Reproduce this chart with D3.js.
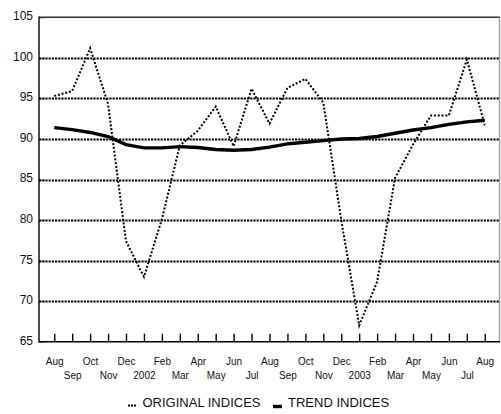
<!DOCTYPE html>
<html>
<head>
<meta charset="utf-8">
<script src="https://cdn.jsdelivr.net/npm/d3@7"></script>
<style>
  html, body { margin: 0; padding: 0; background: #fff; }
  svg { display: block; font-family: "Liberation Sans", Arial, sans-serif; }
</style>
</head>
<body>
<svg id="chart" width="501" height="414"></svg>
<script>
const months = ["Aug","Sep","Oct","Nov","Dec","2002","Feb","Mar","Apr","May","Jun","Jul",
                "Aug","Sep","Oct","Nov","Dec","2003","Feb","Mar","Apr","May","Jun","Jul","Aug"];
const originalIndices = [95.3, 95.9, 101.2, 94.3, 77.4, 73.0, 80.1, 89.2, 91.0, 94.0, 89.1, 96.2,
                         91.9, 96.3, 97.4, 94.5, 80.0, 67.0, 72.4, 85.2, 89.3, 92.9, 92.9, 99.8, 91.7];
const trendIndices = [91.4, 91.15, 90.8, 90.3, 89.3, 88.9, 88.9, 89.05, 88.95, 88.7, 88.6, 88.7,
                      89.0, 89.4, 89.6, 89.8, 90.0, 90.05, 90.3, 90.7, 91.1, 91.4, 91.8, 92.1, 92.3];
const yTicks = [65, 70, 75, 80, 85, 90, 95, 100, 105];
const legendLabels = ["ORIGINAL INDICES", "TREND INDICES"];

const svg = d3.select("#chart");
const plotLeft = 39, plotRight = 500, plotTop = 17.3, plotBottom = 341.7;

const x = d3.scalePoint().domain(d3.range(months.length)).range([plotLeft, plotRight]).padding(0.85);
const y = d3.scaleLinear().domain([65, 105]).range([plotBottom, plotTop]);

// y ticks (grey, inside)
const yAxis = svg.append("g")
  .attr("transform", `translate(${plotLeft},0)`)
  .call(d3.axisLeft(y).tickValues(yTicks).tickSizeInner(-6).tickSizeOuter(0).tickPadding(6));
yAxis.select(".domain").remove();
yAxis.selectAll(".tick line").attr("stroke", "#9a9a9a").attr("stroke-width", 1.3);
yAxis.selectAll(".tick text")
  .attr("font-size", 12).attr("fill", "#111").attr("font-family", "Liberation Sans, Arial, sans-serif")
  .attr("dy", "0.2em");

// gridlines (dotted)
svg.append("g").selectAll("line")
  .data(yTicks.filter(v => v > 65 && v < 105))
  .join("line")
  .attr("x1", plotLeft).attr("x2", plotRight)
  .attr("y1", d => Math.round(y(d)) + 0.5).attr("y2", d => Math.round(y(d)) + 0.5)
  .attr("stroke", "#000").attr("stroke-width", 1.8).attr("stroke-dasharray", "2.2,1");

// frame top & right
svg.append("line").attr("x1", plotLeft).attr("x2", plotRight).attr("y1", y(105)).attr("y2", y(105))
  .attr("stroke", "#333").attr("stroke-width", 1.6);
svg.append("line").attr("x1", plotRight - 0.5).attr("x2", plotRight - 0.5).attr("y1", y(105)).attr("y2", y(65))
  .attr("stroke", "#9a9a9a").attr("stroke-width", 1.3);

// x axis
const xAxis = svg.append("g")
  .attr("transform", `translate(0,${plotBottom})`)
  .call(d3.axisBottom(x).tickSizeInner(-8).tickSizeOuter(0).tickFormat(i => months[i]));
xAxis.select(".domain").remove();
xAxis.selectAll(".tick line").attr("stroke", "#000").attr("stroke-width", 1.4);
xAxis.selectAll(".tick text")
  .attr("font-size", 10).attr("fill", "#111").attr("font-family", "Liberation Sans, Arial, sans-serif")
  .attr("dy", null)
  .attr("y", (d, i) => i % 2 === 0 ? 23 : 37.8);

// axis lines
svg.append("line").attr("x1", plotLeft).attr("x2", plotRight).attr("y1", plotBottom).attr("y2", plotBottom)
  .attr("stroke", "#000").attr("stroke-width", 1.4);
svg.append("line").attr("x1", plotLeft).attr("x2", plotLeft).attr("y1", y(105) - 0.8).attr("y2", plotBottom + 0.7)
  .attr("stroke", "#000").attr("stroke-width", 1.4);

// lines
const line = d3.line().x((d, i) => x(i)).y(d => y(d));
svg.append("path").datum(trendIndices)
  .attr("d", line).attr("fill", "none").attr("stroke", "#000").attr("stroke-width", 3.4);
svg.append("path").datum(originalIndices)
  .attr("d", line).attr("fill", "none").attr("stroke", "#000").attr("stroke-width", 2)
  .attr("stroke-dasharray", "2,1.8");

// legend
const lg = svg.append("g");
lg.append("line").attr("x1", 128).attr("x2", 136).attr("y1", 405.5).attr("y2", 405.5)
  .attr("stroke", "#000").attr("stroke-width", 2).attr("stroke-dasharray", "2,1");
lg.append("text").attr("x", 142.5).attr("y", 406.5).attr("font-size", 13).attr("fill", "#111")
  .text(legendLabels[0]);
lg.append("line").attr("x1", 273).attr("x2", 282).attr("y1", 406.5).attr("y2", 406.5)
  .attr("stroke", "#000").attr("stroke-width", 3.4);
lg.append("text").attr("x", 288).attr("y", 406.5).attr("font-size", 13).attr("fill", "#111")
  .text(legendLabels[1]);
</script>
</body>
</html>
